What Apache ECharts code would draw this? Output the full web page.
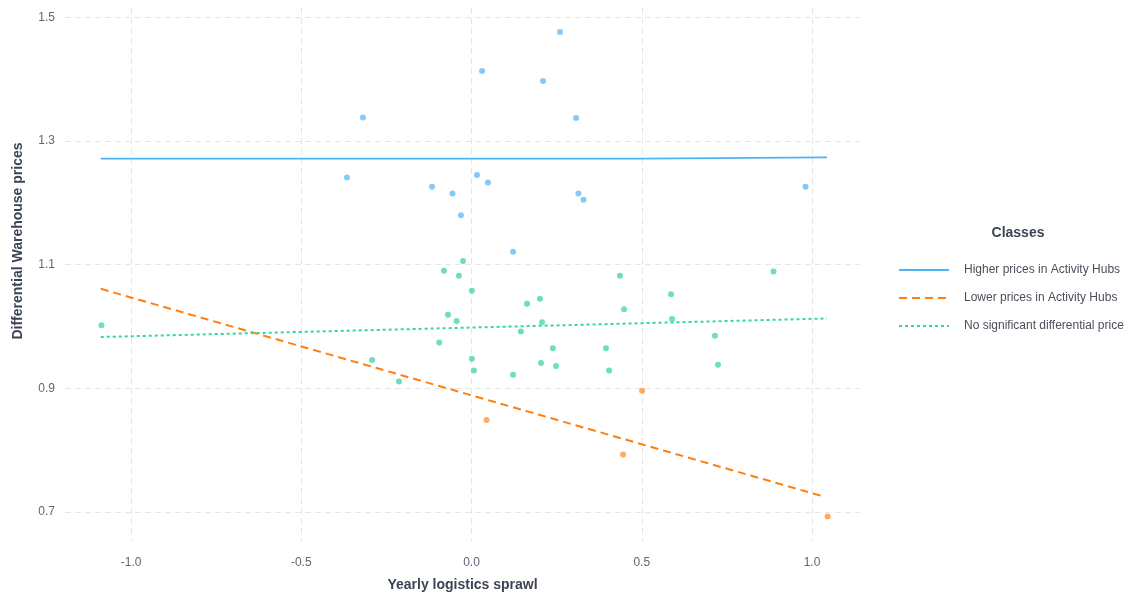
<!DOCTYPE html>
<html>
<head>
<meta charset="utf-8">
<script src="https://cdn.jsdelivr.net/npm/echarts@6/dist/echarts.min.js"></script>
<style>html,body{margin:0;padding:0;background:#fff;}#c{width:1143px;height:597px;}</style>
</head>
<body>
<div id="c"></div>
<script>
// Class names
const classNames = ['Higher prices in Activity Hubs', 'Lower prices in Activity Hubs', 'No significant differential price'];

// Points: [x, y]
const higherPoints = [
  [-0.366, 1.241], [-0.319, 1.338], [-0.116, 1.226], [-0.056, 1.215], [-0.031, 1.180],
  [0.016, 1.245], [0.031, 1.413], [0.048, 1.233], [0.122, 1.121], [0.210, 1.397],
  [0.260, 1.476], [0.307, 1.337], [0.314, 1.215], [0.329, 1.205], [0.981, 1.226]
];
const lowerPoints = [
  [0.044, 0.849], [0.445, 0.793], [0.501, 0.896], [1.046, 0.693]
];
const noDiffPoints = [
  [-1.087, 1.002], [-0.292, 0.946], [-0.213, 0.911], [-0.095, 0.974], [-0.081, 1.090],
  [-0.069, 1.019], [-0.044, 1.009], [-0.037, 1.082], [-0.025, 1.106], [0.001, 1.058],
  [0.001, 0.948], [0.007, 0.929], [0.122, 0.922], [0.145, 0.992], [0.163, 1.037],
  [0.201, 1.045], [0.204, 0.941], [0.207, 1.007], [0.239, 0.965], [0.248, 0.936],
  [0.395, 0.965], [0.404, 0.929], [0.436, 1.082], [0.448, 1.028], [0.586, 1.052],
  [0.589, 1.012], [0.715, 0.985], [0.724, 0.938], [0.887, 1.089]
];

// Fitted trend lines: [x, y] endpoints
const higherLine = [[-1.089, 1.2715], [0.5, 1.2715], [0.5, 1.2735], [1.044, 1.2735]];
const lowerLine = [[-1.089, 1.061], [1.035, 0.725]];
const noDiffLine = [[-1.089, 0.983], [1.044, 1.013]];

// Tick labels
const xTicks = [-1.0, -0.5, 0.0, 0.5, 1.0];
const yTicks = [0.7, 0.9, 1.1, 1.3, 1.5];

const colBlue = '#4db3f5', colOrange = '#ff7f0e', colGreen = '#2ddc96';
const ptBlue = 'rgba(95,185,245,0.95)', ptOrange = 'rgba(255,140,40,0.92)', ptGreen = 'rgba(60,212,155,0.92)';

const chart = echarts.init(document.getElementById('c'));
const gridLine = {show: true, lineStyle: {color: '#e6e6e6', type: [6, 4], width: 1}};
chart.setOption({
  animation: false,
  textStyle: {fontFamily: 'Liberation Sans, Arial, sans-serif'},
  grid: {left: 65, right: 283, top: 8, bottom: 54, containLabel: false},
  xAxis: {
    type: 'value', min: -1.194, max: 1.141,
    name: 'Yearly logistics sprawl', nameLocation: 'middle', nameGap: 37,
    nameTextStyle: {fontSize: 14, fontWeight: 'bold', color: '#3b4454'},
    axisLine: {show: false}, axisTick: {show: false, customValues: xTicks},
    axisLabel: {customValues: xTicks, formatter: v => v.toFixed(1), color: '#5f6673', fontSize: 12, margin: 16},
    splitLine: gridLine
  },
  yAxis: {
    type: 'value', min: 0.6532, max: 1.515,
    axisLine: {show: false}, axisTick: {show: false, customValues: yTicks},
    axisLabel: {customValues: yTicks, formatter: v => v.toFixed(1), color: '#5f6673', fontSize: 12, margin: 10},
    splitLine: gridLine
  },
  graphic: [{
    type: 'text', x: 18, y: 241, rotation: Math.PI / 2,
    style: {text: 'Differential Warehouse prices', fill: '#3b4454', font: 'bold 14px Liberation Sans, Arial, sans-serif',
      align: 'center', verticalAlign: 'middle'}
  }, {
    type: 'text', x: 1018, y: 233,
    style: {text: 'Classes', fill: '#3b4454', font: 'bold 14px Liberation Sans, Arial, sans-serif',
      align: 'center', verticalAlign: 'middle'}
  }],
  legend: {
    data: classNames, orient: 'vertical', left: 893, top: 259,
    itemWidth: 50, itemHeight: 14, itemGap: 16,
    itemStyle: {opacity: 0},
    textStyle: {color: '#4a4f5a', fontSize: 12, padding: [0, 0, 0, 10]}
  },
  series: [
    {name: 'hp', type: 'scatter', data: higherPoints, symbolSize: 6, itemStyle: {color: ptBlue}, z: 3},
    {name: 'lp', type: 'scatter', data: lowerPoints, symbolSize: 6, itemStyle: {color: ptOrange}, z: 3},
    {name: 'nd', type: 'scatter', data: noDiffPoints, symbolSize: 6, itemStyle: {color: ptGreen}, z: 3},
    {name: classNames[0], type: 'line', data: higherLine, showSymbol: false, symbol: 'none',
      lineStyle: {color: colBlue, width: 1.8, type: 'solid'}, itemStyle: {color: colBlue}, z: 4},
    {name: classNames[1], type: 'line', data: lowerLine, showSymbol: false, symbol: 'none',
      lineStyle: {color: colOrange, width: 2, type: [8, 5]}, itemStyle: {color: colOrange}, z: 4},
    {name: classNames[2], type: 'line', data: noDiffLine, showSymbol: false, symbol: 'none',
      lineStyle: {color: colGreen, width: 2, type: [3, 3]}, itemStyle: {color: colGreen}, z: 4}
  ]
});
</script>
</body>
</html>
